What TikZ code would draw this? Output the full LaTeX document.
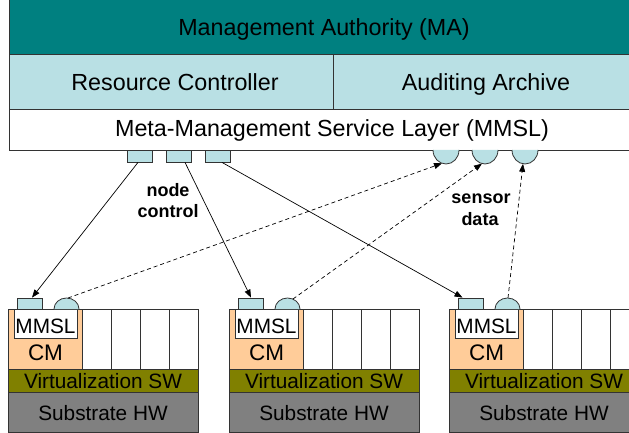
\documentclass[tikz,border=0pt]{standalone}
\usepackage{fontspec}
\setmainfont{Liberation Sans}
\usetikzlibrary{arrows.meta}
\definecolor{mateal}{RGB}{0,128,128}
\definecolor{paleblue}{RGB}{185,224,228}
\definecolor{peach}{RGB}{255,204,153}
\definecolor{olivebar}{RGB}{128,128,0}
\definecolor{hwgray}{RGB}{128,128,128}
\definecolor{edge}{RGB}{51,51,51}

\begin{document}
\begin{tikzpicture}[x=1pt,y=-1pt,
  box/.style={draw=edge, line width=0.8pt},
  bigtxt/.style={anchor=base, inner sep=0pt, font=\fontsize{23.3}{28}\selectfont},
  midtxt/.style={anchor=base, inner sep=0pt, font=\fontsize{20.8}{25}\selectfont},
  cmtxt/.style={anchor=base, inner sep=0pt, font=\fontsize{22.5}{27}\selectfont},
  boldtxt/.style={anchor=base, inner sep=0pt, font=\bfseries\fontsize{18}{22}\selectfont},
  port/.style={draw=edge, line width=0.8pt, fill=paleblue, minimum width=25pt, minimum height=12pt, inner sep=0pt},
  ctl/.style={line width=0.7pt, -{Triangle[length=8pt,width=6pt]}},
  sense/.style={line width=0.7pt, dash pattern=on 4pt off 3pt, -{Triangle[length=8pt,width=6pt]}},
]
\useasboundingbox (0,0) rectangle (629,433);
\clip (0,0) rectangle (629,433);

% ---- management stack ----
\draw[box, fill=mateal] (9,-2) rectangle (639,54);
\draw[box, fill=paleblue] (9,54) rectangle (333,109);
\draw[box, fill=paleblue] (333,54) rectangle (639,109);
\draw[box, fill=white] (9,109) rectangle (639,150);
\node[bigtxt] (matxt) at (324,36) {Management Authority (MA)};
\node[bigtxt] (rctxt) at (175,91) {Resource Controller};
\node[bigtxt] (aatxt) at (486,91) {Auditing Archive};
\node[bigtxt] (mmsltxt) at (332,137) {Meta-Management Service Layer (MMSL)};

% control ports
\node[port] (t1) at (139.5,156) {};
\node[port] (t2) at (178.5,156) {};
\node[port] (t3) at (217.5,156) {};

% sensor ports
\foreach \i/\cx in {1/446, 2/485, 3/525} {
  \path[box, fill=paleblue] (\cx-13,150) arc[start angle=180, end angle=0, x radius=13, y radius=14];
  \coordinate (ts\i) at (\cx,164);
}

% ---- compute nodes ----
\foreach \i/\dx in {1/0, 2/221, 3/441} {
  \begin{scope}[xshift=\dx pt]
    \draw[box, fill=white] (82,309) rectangle (198,369);
    \foreach \c in {111,140,169} \draw[box] (\c,309) -- (\c,369);
    \draw[box, fill=peach] (8,309) rectangle (82,369);
    \draw[box, fill=white] (14,309) rectangle (77,338);
    \node[midtxt] (mm\i) at (45.5,333) {MMSL};
    \node[cmtxt] (cm\i) at (45.5,360) {CM};
    \draw[box, fill=olivebar] (8,369) rectangle (198,392);
    \node[midtxt] (vs\i) at (103,388) {Virtualization SW};
    \draw[box, fill=hwgray] (8,392) rectangle (198,432);
    \node[midtxt] (hw\i) at (103,420) {Substrate HW};
    \node[port, minimum height=11pt] (b\i) at (29.5,303.5) {};
    \path[box, fill=paleblue] (54,309) arc[start angle=180, end angle=360, x radius=12.5, y radius=11];
    \coordinate (bs\i) at (66.5,298);
  \end{scope}
}

% ---- node control ----
\draw[ctl] ([xshift=-1.5pt]t1.south) -- ([xshift=2.5pt]b1.north);
\draw[ctl] ([xshift=6.5pt]t2.south) -- ([xshift=0.5pt]b2.north);
\draw[ctl] ([xshift=4.5pt]t3.south) -- ([xshift=-8pt]b3.north);
\node[boldtxt] (nc1) at (168,196) {node};
\node[boldtxt] (nc2) at (168,217) {control};

% ---- sensor data ----
\draw[sense] ([xshift=1.5pt]bs1) -- ([xshift=-4pt,yshift=0.7pt]ts1);
\draw[sense] ([xshift=5.5pt,yshift=-1pt]bs2) -- ([xshift=-3pt,yshift=0.4pt]ts2);
\draw[sense] ([xshift=0.5pt]bs3) -- ([xshift=-2pt,yshift=0.2pt]ts3);
\node[boldtxt] (sd1) at (481,203) {sensor};
\node[boldtxt] (sd2) at (480,225) {data};
\end{tikzpicture}
\end{document}
